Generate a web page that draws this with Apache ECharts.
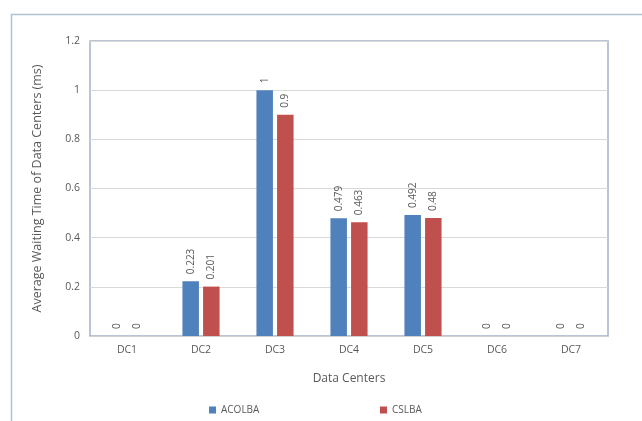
<!DOCTYPE html>
<html>
<head>
<meta charset="utf-8">
<script src="https://cdn.jsdelivr.net/npm/echarts@6/dist/echarts.min.js"></script>
<style>
  html, body { margin: 0; padding: 0; background: #ffffff; }
  #chart { width: 642px; height: 421px; }
</style>
</head>
<body>
<div id="chart"></div>
<script>
// Average waiting time per data center for two load-balancing algorithms
const categories = ['DC1', 'DC2', 'DC3', 'DC4', 'DC5', 'DC6', 'DC7'];
const acolba = [0, 0.223, 1, 0.479, 0.492, 0, 0];
const cslba = [0, 0.201, 0.9, 0.463, 0.48, 0, 0];
const yTicks = { min: 0, max: 1.2, interval: 0.2 };

const FONT = '"Open Sans", "Noto Sans", sans-serif';
const TEXT = '#595959';

const chart = echarts.init(document.getElementById('chart'), null, { renderer: 'canvas' });

function barLabel() {
  return {
    show: true,
    position: 'top',
    rotate: 90,
    align: 'left',
    verticalAlign: 'middle',
    distance: 7,
    color: TEXT,
    fontFamily: FONT,
    fontSize: 10
  };
}

chart.setOption({
  animation: false,
  backgroundColor: '#ffffff',
  graphic: [{
    type: 'rect',
    left: 9,
    top: 12,
    shape: { width: 700, height: 500 },
    style: { fill: 'none', stroke: '#b3c2d3', lineWidth: 1.5 },
    silent: true,
    z: 0
  }],
  grid: {
    left: 90, right: 34, top: 41, bottom: 85,
    show: true,
    borderColor: '#a3b3c6',
    borderWidth: 1.5
  },
  legend: [{
    data: ['ACOLBA'],
    left: 204, top: 400,
    itemWidth: 7, itemHeight: 7, icon: 'rect',
    textStyle: { color: TEXT, fontFamily: FONT, fontSize: 10 }
  }, {
    data: ['CSLBA'],
    left: 375, top: 400,
    itemWidth: 7, itemHeight: 7, icon: 'rect',
    textStyle: { color: TEXT, fontFamily: FONT, fontSize: 10 }
  }],
  xAxis: {
    type: 'category',
    data: categories,
    name: 'Data Centers',
    nameLocation: 'middle',
    nameGap: 37,
    nameTextStyle: { color: TEXT, fontFamily: FONT, fontSize: 12 },
    axisLine: { lineStyle: { color: '#d0d0d0' } },
    axisTick: { show: false },
    axisLabel: { color: TEXT, fontFamily: FONT, fontSize: 10.5, margin: 9 }
  },
  yAxis: {
    type: 'value',
    min: yTicks.min, max: yTicks.max, interval: yTicks.interval,
    name: 'Average Waiting Time of Data Centers (ms)',
    nameLocation: 'middle',
    nameGap: 46,
    nameTextStyle: { color: TEXT, fontFamily: FONT, fontSize: 12.5 },
    axisLine: { show: false },
    axisTick: { show: false },
    splitLine: { lineStyle: { color: '#d9d9d9' } },
    axisLabel: { color: TEXT, fontFamily: FONT, fontSize: 10.5, margin: 10 }
  },
  series: [{
    name: 'ACOLBA',
    type: 'bar',
    data: acolba,
    barWidth: 16.5,
    barGap: '25%',
    itemStyle: { color: '#4f81bd' },
    label: barLabel()
  }, {
    name: 'CSLBA',
    type: 'bar',
    data: cslba,
    barWidth: 16.5,
    itemStyle: { color: '#c0504d' },
    label: barLabel()
  }]
});
</script>
</body>
</html>
